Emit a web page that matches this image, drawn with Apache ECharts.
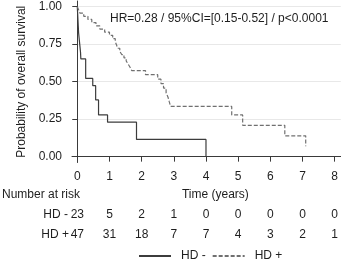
<!DOCTYPE html>
<html>
<head>
<meta charset="utf-8">
<script src="https://cdn.jsdelivr.net/npm/echarts@6/dist/echarts.min.js"></script>
<style>
  html, body { margin: 0; padding: 0; background: #fff; }
  #chart { width: 341px; height: 261px; }
</style>
</head>
<body>
<div id="chart"></div>
<script>
// Kaplan-Meier steps: time (years) and survival after the drop
const hdMinusTime = [0, 0.01, 0.02, 0.03, 0.04, 0.06, 0.08, 0.10, 0.11, 0.26, 0.48, 0.57, 0.66, 0.94, 1.84, 4.00];
const hdMinusSurv = [1, 0.957, 0.913, 0.870, 0.826, 0.783, 0.739, 0.696, 0.652, 0.522, 0.473, 0.378, 0.278, 0.230, 0.115, 0];

const hdPlusTime = [0, 0.04, 0.08, 0.20, 0.33, 0.45, 0.58, 0.70, 0.85, 1.00, 1.10, 1.18, 1.22, 1.25, 1.32, 1.38, 1.45, 1.52, 1.58, 1.64, 1.69, 2.12, 2.50, 2.60, 2.68, 2.76, 2.82, 2.86, 2.90, 4.80, 5.14, 6.45, 7.10];
const hdPlusSurv = [1, 0.979, 0.957, 0.936, 0.915, 0.894, 0.872, 0.851, 0.830, 0.809, 0.787, 0.766, 0.745, 0.723, 0.702, 0.681, 0.659, 0.638, 0.617, 0.596, 0.574, 0.547, 0.517, 0.487, 0.457, 0.426, 0.396, 0.365, 0.335, 0.278, 0.209, 0.139, 0.070];

const xTicks = [0, 1, 2, 3, 4, 5, 6, 7, 8];
const yTicks = [0, 0.25, 0.5, 0.75, 1];
const riskMinus = [23, 5, 2, 1, 0, 0, 0, 0, 0];
const riskPlus = [47, 31, 18, 7, 7, 4, 3, 2, 1];

const FONT = "'Liberation Sans', Arial, sans-serif";
const TXT = '#1e1e1e';
const AX = '#3a3a3a';

const chart = echarts.init(document.getElementById('chart'));

const riskAxis = (vals, offset) => ({
  type: 'value',
  min: -0.165,
  max: 8.19,
  position: 'bottom',
  offset: offset,
  axisLine: { show: false },
  axisTick: { show: false },
  splitLine: { show: false },
  axisLabel: {
    customValues: xTicks,
    formatter: (v) => String(vals[Math.round(v)]),
    color: TXT, fontSize: 12, fontFamily: FONT, margin: 8,
  },
});

chart.setOption({
  animation: false,
  title: {
    text: 'HR=0.28 / 95%CI=[0.15-0.52] / p<0.0001',
    left: 110,
    top: 13,
    padding: 0,
    textStyle: { color: TXT, fontSize: 12, fontWeight: 'normal', fontFamily: FONT },
  },
  legend: {
    data: ['HD -', 'HD +'],
    left: 138,
    top: 250,
    padding: 0,
    itemWidth: 32,
    itemHeight: 10,
    itemGap: 6,
    itemStyle: { opacity: 0 },
    textStyle: { color: TXT, fontSize: 12, fontFamily: FONT, padding: [0, 0, 0, 5] },
  },
  grid: { left: 72, right: 0, top: 1, bottom: 98.5 },
  xAxis: [
    {
      type: 'value',
      min: -0.165,
      max: 8.19,
      name: 'Time (years)',
      nameLocation: 'middle',
      nameGap: 26,
      nameTextStyle: { color: TXT, fontSize: 12, fontFamily: FONT, padding: [0, 0, 0, 18] },
      axisLine: { lineStyle: { color: AX, width: 1 } },
      axisTick: { customValues: xTicks, length: 5, lineStyle: { color: AX } },
      axisLabel: { customValues: xTicks, color: TXT, fontSize: 12, fontFamily: FONT, margin: 8 },
      splitLine: { show: false },
    },
    riskAxis(riskMinus, 38),
    riskAxis(riskPlus, 58),
  ],
  yAxis: {
    type: 'value',
    min: -0.039,
    max: 1.038,
    name: 'Probability of overall survival',
    nameLocation: 'middle',
    nameGap: 36,
    nameTextStyle: { color: TXT, fontSize: 12, fontFamily: FONT },
    axisLine: { show: true, lineStyle: { color: AX, width: 1 } },
    axisTick: { show: true, customValues: yTicks, length: 5, lineStyle: { color: AX } },
    axisLabel: {
      customValues: yTicks,
      formatter: (v) => v.toFixed(2),
      color: TXT, fontSize: 12, fontFamily: FONT, margin: 10,
    },
    splitLine: { show: true, customValues: yTicks, lineStyle: { color: '#e8e8e8', width: 1 } },
  },
  graphic: [
    { type: 'text', x: 2, y: 195, style: { text: 'Number at risk', fill: TXT, font: '12px ' + FONT, verticalAlign: 'middle' } },
    { type: 'text', x: 68, y: 215, style: { text: 'HD -', fill: TXT, font: '12px ' + FONT, align: 'right', verticalAlign: 'middle' } },
    { type: 'text', x: 69, y: 235, style: { text: 'HD +', fill: TXT, font: '12px ' + FONT, align: 'right', verticalAlign: 'middle' } },
  ],
  series: [
    {
      name: 'HD -',
      type: 'line',
      step: 'end',
      symbol: 'none',
      data: hdMinusTime.map((t, i) => [t, hdMinusSurv[i]]),
      lineStyle: { color: '#3c3c3c', width: 1.2 },
      itemStyle: { color: '#3c3c3c' },
    },
    {
      name: 'HD +',
      type: 'line',
      step: 'end',
      symbol: 'none',
      data: hdPlusTime.map((t, i) => [t, hdPlusSurv[i]]),
      lineStyle: { color: '#707070', width: 1.2, type: [4, 2] },
      itemStyle: { color: '#707070' },
    },
  ],
});
</script>
</body>
</html>
